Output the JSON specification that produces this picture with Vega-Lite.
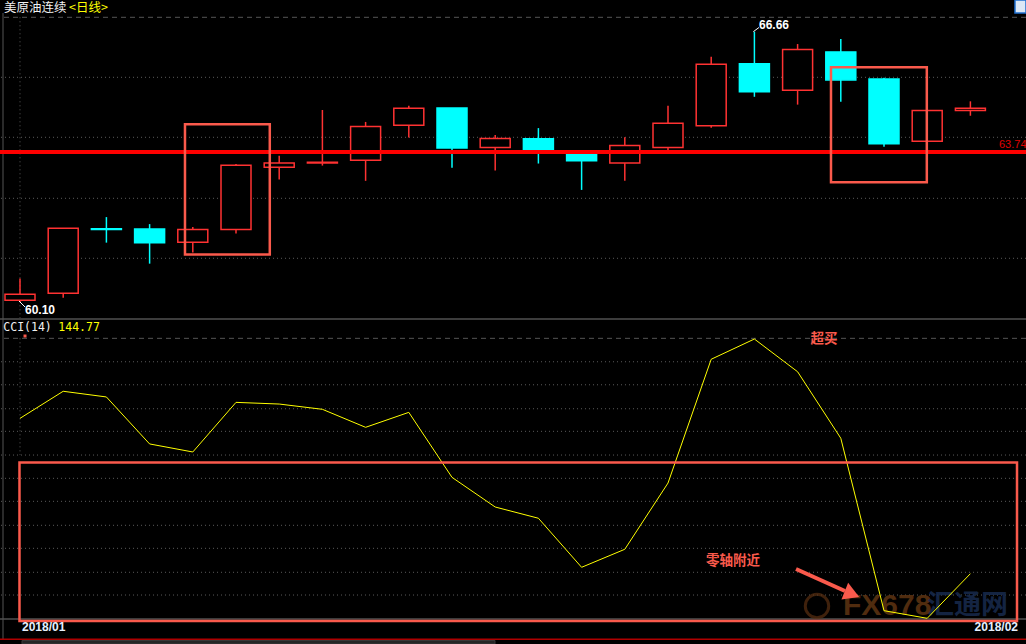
{
  "$schema": "https://vega.github.io/schema/vega-lite/v6.json",
  "background": "#000000",
  "padding": 0,
  "autosize": "none",
  "width": 1026,
  "height": 644,
  "config": {"view": {"stroke": null}, "scale": {"continuousPadding": 0}},
  "datasets": {
    "candles": [
      {"i": 1, "open": 60.14, "high": 60.67, "low": 60.10, "close": 60.29},
      {"i": 2, "open": 60.31, "high": 61.89, "low": 60.20, "close": 61.89},
      {"i": 3, "open": 61.88, "high": 62.16, "low": 61.54, "close": 61.86},
      {"i": 4, "open": 61.87, "high": 61.99, "low": 61.03, "close": 61.54},
      {"i": 5, "open": 61.55, "high": 61.92, "low": 61.30, "close": 61.86},
      {"i": 6, "open": 61.86, "high": 63.45, "low": 61.76, "close": 63.42},
      {"i": 7, "open": 63.37, "high": 63.65, "low": 63.07, "close": 63.47},
      {"i": 8, "open": 63.47, "high": 64.76, "low": 63.41, "close": 63.49},
      {"i": 9, "open": 63.54, "high": 64.47, "low": 63.04, "close": 64.36},
      {"i": 10, "open": 64.39, "high": 64.86, "low": 64.09, "close": 64.80},
      {"i": 11, "open": 64.81, "high": 64.81, "low": 63.36, "close": 63.84},
      {"i": 12, "open": 63.85, "high": 64.15, "low": 63.29, "close": 64.07},
      {"i": 13, "open": 64.06, "high": 64.32, "low": 63.46, "close": 63.77},
      {"i": 14, "open": 63.70, "high": 63.72, "low": 62.82, "close": 63.53},
      {"i": 15, "open": 63.47, "high": 64.10, "low": 63.04, "close": 63.90},
      {"i": 16, "open": 63.85, "high": 64.86, "low": 63.76, "close": 64.44},
      {"i": 17, "open": 64.38, "high": 66.05, "low": 64.33, "close": 65.87},
      {"i": 18, "open": 65.88, "high": 66.66, "low": 65.08, "close": 65.20},
      {"i": 19, "open": 65.24, "high": 66.36, "low": 64.89, "close": 66.23},
      {"i": 20, "open": 66.17, "high": 66.48, "low": 64.96, "close": 65.49},
      {"i": 21, "open": 65.51, "high": 65.54, "low": 63.87, "close": 63.94},
      {"i": 22, "open": 64.00, "high": 64.75, "low": 64.00, "close": 64.75},
      {"i": 23, "open": 64.75, "high": 64.97, "low": 64.62, "close": 64.80}
    ],
    "cci": [
      {"i": 1, "cci": 144.77}, {"i": 2, "cci": 164.3}, {"i": 3, "cci": 160.2},
      {"i": 4, "cci": 126.3}, {"i": 5, "cci": 120.5}, {"i": 6, "cci": 156.3},
      {"i": 7, "cci": 155.1}, {"i": 8, "cci": 151.3}, {"i": 9, "cci": 138.3},
      {"i": 10, "cci": 149.1}, {"i": 11, "cci": 102.2}, {"i": 12, "cci": 80.8},
      {"i": 13, "cci": 72.7}, {"i": 14, "cci": 37.3}, {"i": 15, "cci": 50.3},
      {"i": 16, "cci": 98.1}, {"i": 17, "cci": 187.4}, {"i": 18, "cci": 202.0},
      {"i": 19, "cci": 178.4}, {"i": 20, "cci": 130.4}, {"i": 21, "cci": 6.0},
      {"i": 22, "cci": 0.5}, {"i": 23, "cci": 32.7}
    ]
  },
  "layer": [
    {
      "layer": [
        {
          "data": {"values": [{"p": 67.0095}]},
          "mark": {"type": "rule", "color": "#555555", "strokeWidth": 1, "strokeDash": [5, 4]},
          "encoding": {"y": {"field": "p", "type": "quantitative", "scale": {"domain": [51.798, 67.4294], "nice": false, "zero": false}, "axis": null}}
        },
        {
          "data": {"values": [{"p": 65.553}, {"p": 64.097}, {"p": 62.616}, {"p": 61.160}]},
          "mark": {"type": "rule", "color": "#5a5a5a", "strokeWidth": 1, "strokeDash": [1, 3]},
          "encoding": {"y": {"field": "p", "type": "quantitative", "scale": {"domain": [51.798, 67.4294], "nice": false, "zero": false}, "axis": null}}
        },
        {
          "data": {"values": [{"i": 1, "p": 67.0095, "p2": 59.71}]},
          "mark": {"type": "rule", "color": "#5a5a5a", "strokeWidth": 1, "strokeDash": [1, 3]},
          "encoding": {
            "x": {"field": "i", "type": "quantitative", "scale": {"domain": [0.537, 24.287], "nice": false, "zero": false, "padding": 0}, "axis": null},
            "y": {"field": "p", "type": "quantitative", "scale": {"domain": [51.798, 67.4294], "nice": false, "zero": false}, "axis": null},
            "y2": {"field": "p2"}
          }
        },
        {
          "data": {"values": [{"i": 0.6065, "p": 67.114, "p2": 51.895}]},
          "mark": {"type": "rule", "color": "#555555", "strokeWidth": 1},
          "encoding": {
            "x": {"field": "i", "type": "quantitative", "scale": {"domain": [0.537, 24.287], "nice": false, "zero": false, "padding": 0}, "axis": null},
            "y": {"field": "p", "type": "quantitative", "scale": {"domain": [51.798, 67.4294], "nice": false, "zero": false}, "axis": null},
            "y2": {"field": "p2"}
          }
        },
        {
          "data": {"values": [{"p": 59.6866}]},
          "mark": {"type": "rule", "color": "#505050", "strokeWidth": 1.5},
          "encoding": {"y": {"field": "p", "type": "quantitative", "scale": {"domain": [51.798, 67.4294], "nice": false, "zero": false}, "axis": null}}
        },
        {
          "data": {"name": "candles"},
          "mark": {"type": "rule", "strokeWidth": 1.5},
          "encoding": {
            "x": {"field": "i", "type": "quantitative", "scale": {"domain": [0.537, 24.287], "nice": false, "zero": false, "padding": 0}, "axis": null},
            "y": {"field": "low", "type": "quantitative", "scale": {"domain": [51.798, 67.4294], "nice": false, "zero": false}, "axis": null},
            "y2": {"field": "high"},
            "color": {"condition": {"test": "datum.close >= datum.open", "value": "#ff3232"}, "value": "#00ffff"}
          }
        },
        {
          "data": {"name": "candles"},
          "mark": {"type": "bar", "size": 30, "strokeWidth": 1.5},
          "encoding": {
            "x": {"field": "i", "type": "quantitative", "scale": {"domain": [0.537, 24.287], "nice": false, "zero": false, "padding": 0}, "axis": null},
            "y": {"field": "open", "type": "quantitative", "scale": {"domain": [51.798, 67.4294], "nice": false, "zero": false}, "axis": null},
            "y2": {"field": "close"},
            "fill": {"condition": {"test": "datum.close >= datum.open", "value": "#000000"}, "value": "#00ffff"},
            "stroke": {"condition": {"test": "datum.close >= datum.open", "value": "#ff3232"}, "value": "#00ffff"}
          }
        },
        {
          "data": {"values": [{"p": 63.74}]},
          "mark": {"type": "rule", "color": "#ff0000", "strokeWidth": 4},
          "encoding": {"y": {"field": "p", "type": "quantitative", "scale": {"domain": [51.798, 67.4294], "nice": false, "zero": false}, "axis": null}}
        },
        {
          "data": {"values": [{"i": 23.662, "p": 63.91, "label": "63.74"}]},
          "mark": {"type": "text", "align": "left", "baseline": "middle", "color": "#e00000", "fontSize": 11, "font": "Liberation Sans"},
          "encoding": {
            "x": {"field": "i", "type": "quantitative", "scale": {"domain": [0.537, 24.287], "nice": false, "zero": false, "padding": 0}, "axis": null},
            "y": {"field": "p", "type": "quantitative", "scale": {"domain": [51.798, 67.4294], "nice": false, "zero": false}, "axis": null},
            "text": {"field": "label"}
          }
        },
        {
          "data": {"values": [{"i": 4.819, "i2": 6.782, "p": 64.412, "p2": 61.25}, {"i": 19.773, "i2": 21.991, "p": 65.796, "p2": 63.005}]},
          "mark": {"type": "rect", "fill": "#000000", "fillOpacity": 0, "stroke": "#fa5a4c", "strokeWidth": 2.5},
          "encoding": {
            "x": {"field": "i", "type": "quantitative", "scale": {"domain": [0.537, 24.287], "nice": false, "zero": false, "padding": 0}, "axis": null},
            "x2": {"field": "i2"},
            "y": {"field": "p", "type": "quantitative", "scale": {"domain": [51.798, 67.4294], "nice": false, "zero": false}, "axis": null},
            "y2": {"field": "p2"}
          }
        },
        {
          "data": {"values": [{"i": 0.6296, "p": 67.2231, "label": "美原油连续"}]},
          "mark": {"type": "text", "align": "left", "baseline": "middle", "color": "#f0f0f0", "fontSize": 12.5, "font": "Noto Sans CJK SC"},
          "encoding": {
            "x": {"field": "i", "type": "quantitative", "scale": {"domain": [0.537, 24.287], "nice": false, "zero": false, "padding": 0}, "axis": null},
            "y": {"field": "p", "type": "quantitative", "scale": {"domain": [51.798, 67.4294], "nice": false, "zero": false}, "axis": null},
            "text": {"field": "label"}
          }
        },
        {
          "data": {"values": [{"i": 2.134, "p": 67.2231, "label": "<日线>"}]},
          "mark": {"type": "text", "align": "left", "baseline": "middle", "color": "#ffff00", "fontSize": 12.5, "font": "Noto Sans CJK SC"},
          "encoding": {
            "x": {"field": "i", "type": "quantitative", "scale": {"domain": [0.537, 24.287], "nice": false, "zero": false, "padding": 0}, "axis": null},
            "y": {"field": "p", "type": "quantitative", "scale": {"domain": [51.798, 67.4294], "nice": false, "zero": false}, "axis": null},
            "text": {"field": "label"}
          }
        },
        {
          "data": {"values": [{"i": 0.977, "i2": 1.116, "p": 60.123, "p2": 59.978}, {"i": 17.975, "i2": 18.106, "p": 66.66, "p2": 66.762}]},
          "mark": {"type": "rule", "color": "#ffffff", "strokeWidth": 1},
          "encoding": {
            "x": {"field": "i", "type": "quantitative", "scale": {"domain": [0.537, 24.287], "nice": false, "zero": false, "padding": 0}, "axis": null},
            "x2": {"field": "i2"},
            "y": {"field": "p", "type": "quantitative", "scale": {"domain": [51.798, 67.4294], "nice": false, "zero": false}, "axis": null},
            "y2": {"field": "p2"}
          }
        },
        {
          "data": {"values": [{"i": 1.1157, "p": 59.905, "label": "60.10"}, {"i": 18.106, "p": 66.823, "label": "66.66"}]},
          "mark": {"type": "text", "align": "left", "baseline": "middle", "color": "#ffffff", "fontSize": 12, "fontWeight": "bold", "font": "Liberation Sans"},
          "encoding": {
            "x": {"field": "i", "type": "quantitative", "scale": {"domain": [0.537, 24.287], "nice": false, "zero": false, "padding": 0}, "axis": null},
            "y": {"field": "p", "type": "quantitative", "scale": {"domain": [51.798, 67.4294], "nice": false, "zero": false}, "axis": null},
            "text": {"field": "label"}
          }
        },
        {
          "data": {"values": [{"i": 24.032, "i2": 24.287, "p": 67.4294, "p2": 67.114}]},
          "mark": {"type": "rect", "fill": "#dce8f6", "stroke": "#1f6fd0", "strokeWidth": 1.5},
          "encoding": {
            "x": {"field": "i", "type": "quantitative", "scale": {"domain": [0.537, 24.287], "nice": false, "zero": false, "padding": 0}, "axis": null},
            "x2": {"field": "i2"},
            "y": {"field": "p", "type": "quantitative", "scale": {"domain": [51.798, 67.4294], "nice": false, "zero": false}, "axis": null},
            "y2": {"field": "p2"}
          }
        }
      ]
    },
    {
      "layer": [
        {
          "data": {"values": [{"v": 202.5}]},
          "mark": {"type": "rule", "color": "#555555", "strokeWidth": 1, "strokeDash": [5, 4]},
          "encoding": {"y": {"field": "v", "type": "quantitative", "scale": {"domain": [-18.038, 446.61], "nice": false, "zero": false}, "axis": null}}
        },
        {
          "data": {"values": [{"v": 185.6}, {"v": 169.0}, {"v": 151.7}, {"v": 135.4}, {"v": 118.3}, {"v": 101.5}, {"v": 84.9}, {"v": 67.6}, {"v": 51.0}, {"v": 33.7}, {"v": 17.3}]},
          "mark": {"type": "rule", "color": "#5a5a5a", "strokeWidth": 1, "strokeDash": [1, 3]},
          "encoding": {"y": {"field": "v", "type": "quantitative", "scale": {"domain": [-18.038, 446.61], "nice": false, "zero": false}, "axis": null}}
        },
        {
          "data": {"values": [{"i": 1, "v": 202.5, "v2": 118.3}]},
          "mark": {"type": "rule", "color": "#5a5a5a", "strokeWidth": 1, "strokeDash": [1, 3]},
          "encoding": {
            "x": {"field": "i", "type": "quantitative", "scale": {"domain": [0.537, 24.287], "nice": false, "zero": false, "padding": 0}, "axis": null},
            "y": {"field": "v", "type": "quantitative", "scale": {"domain": [-18.038, 446.61], "nice": false, "zero": false}, "axis": null},
            "y2": {"field": "v2"}
          }
        },
        {
          "data": {"values": [{"v": 0}]},
          "mark": {"type": "rule", "color": "#505050", "strokeWidth": 1.5},
          "encoding": {"y": {"field": "v", "type": "quantitative", "scale": {"domain": [-18.038, 446.61], "nice": false, "zero": false}, "axis": null}}
        },
        {
          "data": {"values": [{"v": -14.65}]},
          "mark": {"type": "rule", "color": "#b00000", "strokeWidth": 1.5},
          "encoding": {"y": {"field": "v", "type": "quantitative", "scale": {"domain": [-18.038, 446.61], "nice": false, "zero": false}, "axis": null}}
        },
        {
          "data": {"values": [{"i": 1.046, "i2": 11.995, "v": -15.5, "v2": -18.038}]},
          "mark": {"type": "rect", "fill": "#262626", "stroke": "#3a3a3a", "strokeWidth": 1},
          "encoding": {
            "x": {"field": "i", "type": "quantitative", "scale": {"domain": [0.537, 24.287], "nice": false, "zero": false, "padding": 0}, "axis": null},
            "x2": {"field": "i2"},
            "y": {"field": "v", "type": "quantitative", "scale": {"domain": [-18.038, 446.61], "nice": false, "zero": false}, "axis": null},
            "y2": {"field": "v2"}
          }
        },
        {
          "data": {"values": [{"i": 19.449, "v": 9.38}]},
          "mark": {"type": "point", "shape": "circle", "size": 550, "filled": false, "stroke": "#5a3012", "strokeWidth": 3, "opacity": 0.7},
          "encoding": {
            "x": {"field": "i", "type": "quantitative", "scale": {"domain": [0.537, 24.287], "nice": false, "zero": false, "padding": 0}, "axis": null},
            "y": {"field": "v", "type": "quantitative", "scale": {"domain": [-18.038, 446.61], "nice": false, "zero": false}, "axis": null}
          }
        },
        {
          "data": {"values": [{"i": 20.051, "v": 9.38, "label": "FX678"}]},
          "mark": {"type": "text", "align": "left", "baseline": "middle", "color": "#5e3412", "opacity": 0.85, "fontSize": 30, "fontWeight": "bold", "font": "Liberation Sans"},
          "encoding": {
            "x": {"field": "i", "type": "quantitative", "scale": {"domain": [0.537, 24.287], "nice": false, "zero": false, "padding": 0}, "axis": null},
            "y": {"field": "v", "type": "quantitative", "scale": {"domain": [-18.038, 446.61], "nice": false, "zero": false}, "axis": null},
            "text": {"field": "label"}
          }
        },
        {
          "data": {"values": [{"i": 21.995, "v": 9.38, "label": "汇通网"}]},
          "mark": {"type": "text", "align": "left", "baseline": "middle", "color": "#17294a", "opacity": 0.9, "fontSize": 27, "fontWeight": "bold", "font": "Noto Sans CJK SC"},
          "encoding": {
            "x": {"field": "i", "type": "quantitative", "scale": {"domain": [0.537, 24.287], "nice": false, "zero": false, "padding": 0}, "axis": null},
            "y": {"field": "v", "type": "quantitative", "scale": {"domain": [-18.038, 446.61], "nice": false, "zero": false}, "axis": null},
            "text": {"field": "label"}
          }
        },
        {
          "data": {"name": "cci"},
          "mark": {"type": "line", "color": "#ffff00", "strokeWidth": 1},
          "encoding": {
            "x": {"field": "i", "type": "quantitative", "scale": {"domain": [0.537, 24.287], "nice": false, "zero": false, "padding": 0}, "axis": null},
            "y": {"field": "cci", "type": "quantitative", "scale": {"domain": [-18.038, 446.61], "nice": false, "zero": false}, "axis": null}
          }
        },
        {
          "data": {"values": [{"i": 0.988, "i2": 24.079, "v": 112.9, "v2": -1.44}]},
          "mark": {"type": "rect", "fill": "#000000", "fillOpacity": 0, "stroke": "#fa5a4c", "strokeWidth": 2.5},
          "encoding": {
            "x": {"field": "i", "type": "quantitative", "scale": {"domain": [0.537, 24.287], "nice": false, "zero": false, "padding": 0}, "axis": null},
            "x2": {"field": "i2"},
            "y": {"field": "v", "type": "quantitative", "scale": {"domain": [-18.038, 446.61], "nice": false, "zero": false}, "axis": null},
            "y2": {"field": "v2"}
          }
        },
        {
          "data": {"values": [{"i": 18.963, "i2": 20.097, "v": 36.08, "v2": 20.2}]},
          "mark": {"type": "rule", "color": "#fa5a4c", "strokeWidth": 4},
          "encoding": {
            "x": {"field": "i", "type": "quantitative", "scale": {"domain": [0.537, 24.287], "nice": false, "zero": false, "padding": 0}, "axis": null},
            "x2": {"field": "i2"},
            "y": {"field": "v", "type": "quantitative", "scale": {"domain": [-18.038, 446.61], "nice": false, "zero": false}, "axis": null},
            "y2": {"field": "v2"}
          }
        },
        {
          "data": {"values": [{"i": 20.259, "v": 18.04}]},
          "mark": {"type": "point", "shape": "triangle-up", "size": 320, "filled": true, "color": "#fa5a4c", "opacity": 1, "angle": 112},
          "encoding": {
            "x": {"field": "i", "type": "quantitative", "scale": {"domain": [0.537, 24.287], "nice": false, "zero": false, "padding": 0}, "axis": null},
            "y": {"field": "v", "type": "quantitative", "scale": {"domain": [-18.038, 446.61], "nice": false, "zero": false}, "axis": null}
          }
        },
        {
          "data": {"values": [{"i": 19.611, "v": 202.0, "label": "超买"}, {"i": 17.505, "v": 41.85, "label": "零轴附近"}]},
          "mark": {"type": "text", "align": "center", "baseline": "middle", "color": "#fa5a4c", "fontSize": 13.5, "fontWeight": "bold", "font": "Noto Sans CJK SC"},
          "encoding": {
            "x": {"field": "i", "type": "quantitative", "scale": {"domain": [0.537, 24.287], "nice": false, "zero": false, "padding": 0}, "axis": null},
            "y": {"field": "v", "type": "quantitative", "scale": {"domain": [-18.038, 446.61], "nice": false, "zero": false}, "axis": null},
            "text": {"field": "label"}
          }
        },
        {
          "data": {"values": [{"i": 0.6134, "v": 209.96, "label": "CCI(14)"}]},
          "mark": {"type": "text", "align": "left", "baseline": "middle", "color": "#f0f0f0", "fontSize": 11.5, "font": "DejaVu Sans Mono"},
          "encoding": {
            "x": {"field": "i", "type": "quantitative", "scale": {"domain": [0.537, 24.287], "nice": false, "zero": false, "padding": 0}, "axis": null},
            "y": {"field": "v", "type": "quantitative", "scale": {"domain": [-18.038, 446.61], "nice": false, "zero": false}, "axis": null},
            "text": {"field": "label"}
          }
        },
        {
          "data": {"values": [{"i": 1.8866, "v": 209.96, "label": "144.77"}]},
          "mark": {"type": "text", "align": "left", "baseline": "middle", "color": "#ffff00", "fontSize": 11.5, "font": "DejaVu Sans Mono"},
          "encoding": {
            "x": {"field": "i", "type": "quantitative", "scale": {"domain": [0.537, 24.287], "nice": false, "zero": false, "padding": 0}, "axis": null},
            "y": {"field": "v", "type": "quantitative", "scale": {"domain": [-18.038, 446.61], "nice": false, "zero": false}, "axis": null},
            "text": {"field": "label"}
          }
        },
        {
          "data": {"values": [{"i": 1.116, "v": 204.18}]},
          "mark": {"type": "point", "shape": "square", "size": 9, "filled": true, "color": "#fa5a4c", "opacity": 1},
          "encoding": {
            "x": {"field": "i", "type": "quantitative", "scale": {"domain": [0.537, 24.287], "nice": false, "zero": false, "padding": 0}, "axis": null},
            "y": {"field": "v", "type": "quantitative", "scale": {"domain": [-18.038, 446.61], "nice": false, "zero": false}, "axis": null}
          }
        },
        {
          "data": {"values": [{"i": 1.046, "v": -5.77, "label": "2018/01"}]},
          "mark": {"type": "text", "align": "left", "baseline": "middle", "color": "#e6f0ff", "fontSize": 12, "fontWeight": "bold", "font": "Liberation Sans"},
          "encoding": {
            "x": {"field": "i", "type": "quantitative", "scale": {"domain": [0.537, 24.287], "nice": false, "zero": false, "padding": 0}, "axis": null},
            "y": {"field": "v", "type": "quantitative", "scale": {"domain": [-18.038, 446.61], "nice": false, "zero": false}, "axis": null},
            "text": {"field": "label"}
          }
        },
        {
          "data": {"values": [{"i": 24.102, "v": -5.77, "label": "2018/02"}]},
          "mark": {"type": "text", "align": "right", "baseline": "middle", "color": "#e6f0ff", "fontSize": 12, "fontWeight": "bold", "font": "Liberation Sans"},
          "encoding": {
            "x": {"field": "i", "type": "quantitative", "scale": {"domain": [0.537, 24.287], "nice": false, "zero": false, "padding": 0}, "axis": null},
            "y": {"field": "v", "type": "quantitative", "scale": {"domain": [-18.038, 446.61], "nice": false, "zero": false}, "axis": null},
            "text": {"field": "label"}
          }
        }
      ]
    }
  ],
  "resolve": {"scale": {"y": "independent"}}
}
